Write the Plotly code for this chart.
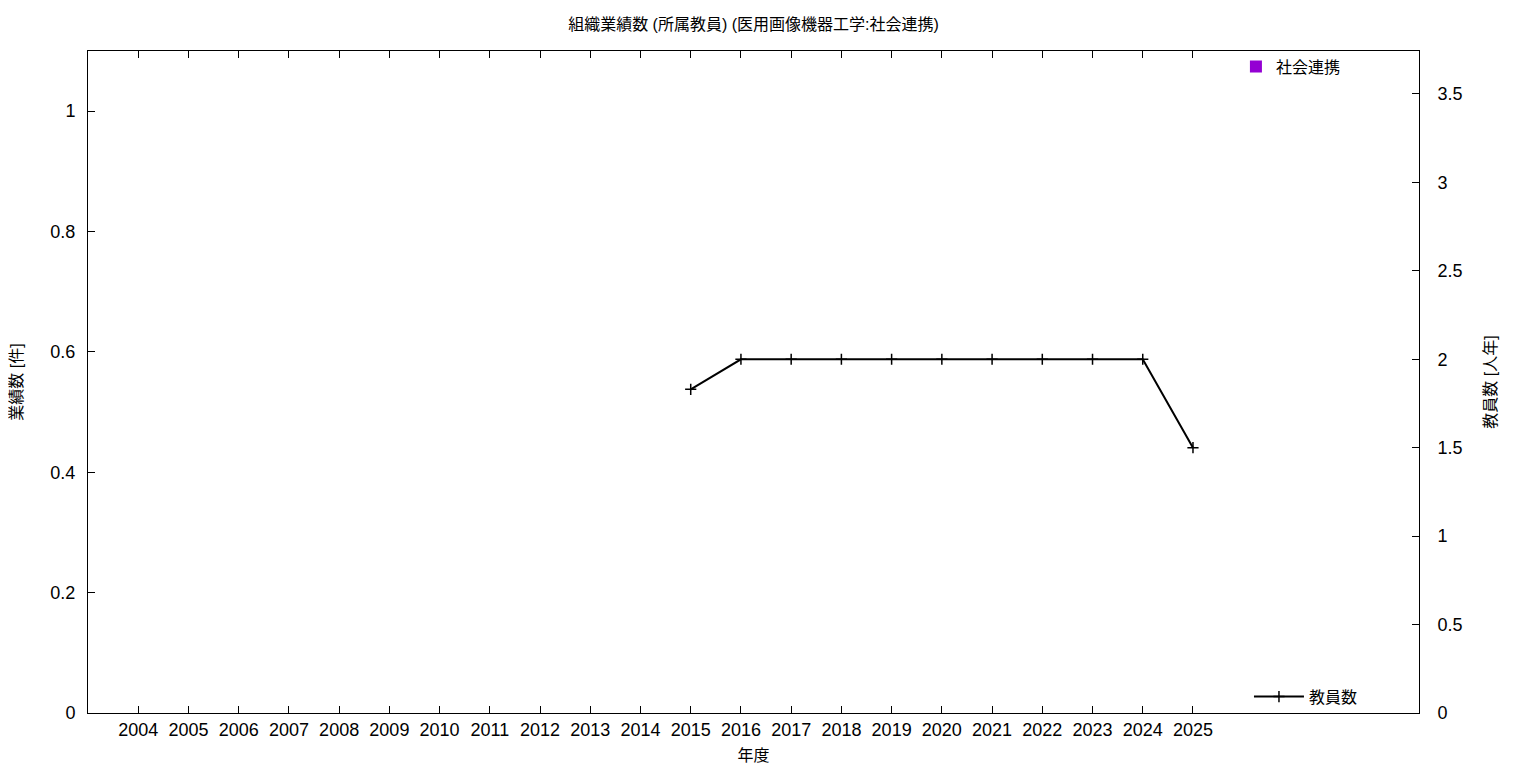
import plotly.graph_objects as go

years = list(range(2004, 2026))
year_labels = [str(y) for y in years]
renkei_counts = [0] * len(years)
staff_years = [2015, 2016, 2017, 2018, 2019, 2020, 2021, 2022, 2023, 2024, 2025]
staff_counts = [1.83, 2, 2, 2, 2, 2, 2, 2, 2, 2, 1.5]

FONT = "Liberation Sans, Noto Sans CJK JP, sans-serif"

fig = go.Figure()
fig.add_trace(go.Bar(
    x=years, y=renkei_counts, name="社会連携",
    marker=dict(color="#9400D3", line=dict(color="black", width=0)),
    legend="legend", yaxis="y",
))
fig.add_trace(go.Scatter(
    x=staff_years, y=staff_counts, name="教員数", mode="lines+markers",
    line=dict(color="black", width=2),
    marker=dict(symbol="cross-thin", size=8, line=dict(color="black", width=1.5)),
    legend="legend2", yaxis="y2",
))

fig.update_layout(
    width=1536, height=768,
    margin=dict(l=80, r=125, t=43, b=63),
    paper_bgcolor="white", plot_bgcolor="white",
    font=dict(family=FONT, size=15, color="black"),
    title=dict(text="組織業績数 (所属教員) (医用画像機器工学:社会連携)", x=0.5, xref="paper",
               xanchor="center", y=0.978, yanchor="middle", font=dict(size=16)),
    xaxis=dict(range=[2003, 2029.5], tickvals=years, ticktext=year_labels,
               ticks="inside", ticklen=7, tickcolor="black", showline=True, linecolor="black",
               mirror="ticks", showgrid=False, zeroline=False, automargin=False,
               title=dict(text="年度", font=dict(size=16), standoff=11),
               tickfont=dict(size=18)),
    yaxis=dict(range=[0, 1.1], tickvals=[0, 0.2, 0.4, 0.6, 0.8, 1],
               ticktext=["0", "0.2", "0.4", "0.6", "0.8", "1"],
               ticks="inside", ticklen=7, tickcolor="black", showline=True, linecolor="black",
               showgrid=False, zeroline=False, automargin=False, ticklabelstandoff=8,
               title=dict(text="業績数 [件]", font=dict(size=16), standoff=29),
               tickfont=dict(size=18)),
    yaxis2=dict(range=[0, 3.743], overlaying="y", side="right",
                tickvals=[0, 0.5, 1, 1.5, 2, 2.5, 3, 3.5],
                ticktext=["0", "0.5", "1", "1.5", "2", "2.5", "3", "3.5"],
                ticks="inside", ticklen=7, tickcolor="black", showline=True, linecolor="black",
                showgrid=False, zeroline=False, automargin=False, ticklabelstandoff=14,
                title=dict(text="教員数 [人年]", font=dict(size=16), standoff=23),
                tickfont=dict(size=18)),
    legend=dict(x=0.9451, y=1.002, xanchor="right", yanchor="top", bgcolor="rgba(0,0,0,0)",
                font=dict(size=16)),
    legend2=dict(x=0.9579, y=-0.001, xanchor="right", yanchor="bottom", bgcolor="rgba(0,0,0,0)",
                 font=dict(size=16), itemwidth=50),
    showlegend=True,
    bargap=0.5,
)

fig.write_html("out.html")
